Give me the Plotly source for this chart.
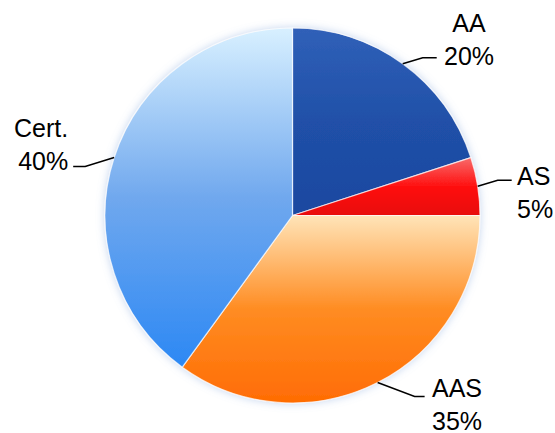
import math
import plotly.graph_objects as go

# Data
labels = ["AA", "AS", "AAS", "Cert."]
shares = [20, 5, 35, 40]
colors = ["#2050a8", "#f41414", "#ff8018", "#4e98ee"]

W, H = 555, 433
CX, CY, R = 292.5, 215.5, 187.5  # pie centre / radius in pixels

# leader-line styling per label: elbow offset, horizontal run, text offset, anchor
LEADER = {
    "AA": dict(elbow=(20, -6), run=14, text=(32, -18), anchor="center"),
    "AS": dict(elbow=(20, -6), run=14, text=(3, 12), anchor="left"),
    "AAS": dict(elbow=(37, 14), run=10, text=(5, 8), anchor="left"),
    "Cert.": dict(elbow=(-29, 9), run=-12, text=(-3, -22), anchor="right"),
}

# gradient stops (top -> bottom) applied to slices in the browser
GRADIENTS = [
    ["#3060b8", "#2050a8", "#1c48a0"],
    ["#f86a6a", "#ff1010", "#e80808"],
    ["#ffe4b8", "#ff8c22", "#ff6c04"],
    ["#d8f0ff", "#70a8ee", "#2c88f4"],
]


def px(x):
    return x / W


def py(y):
    return 1 - y / H


fig = go.Figure(go.Pie(
    labels=labels,
    values=shares,
    sort=False,
    direction="clockwise",
    rotation=0,
    textinfo="none",
    hoverinfo="label+percent",
    marker=dict(colors=colors, line=dict(color="rgba(255,255,255,0.7)", width=1.2)),
    domain=dict(x=[px(CX - R), px(CX + R)], y=[py(CY + R), py(CY - R)]),
))

shapes = []
annotations = []
total = sum(shares)
cum = 0
for lab, val in zip(labels, shares):
    mid = (cum + val / 2) / total * 2 * math.pi
    cum += val
    ex, ey = CX + R * math.sin(mid), CY - R * math.cos(mid)
    st = LEADER[lab]
    bx, by = ex + st["elbow"][0], ey + st["elbow"][1]
    tx = bx + st["run"]
    shapes.append(dict(
        type="path", xref="paper", yref="paper",
        path=f"M {px(ex)} {py(ey)} L {px(bx)} {py(by)} L {px(tx)} {py(by)}",
        line=dict(color="black", width=1.5),
    ))
    pct = round(val / total * 100)
    annotations.append(dict(
        xref="paper", yref="paper",
        x=px(tx + st["text"][0]), y=py(by + st["text"][1]),
        text=f"{lab}<br>{pct}%", showarrow=False,
        xanchor=st["anchor"], yanchor="middle", align=st["anchor"],
        font=dict(size=25, color="black", family="Liberation Sans, Arial, sans-serif"),
    ))

fig.update_layout(
    width=W, height=H,
    margin=dict(l=0, r=0, t=0, b=0),
    paper_bgcolor="white",
    plot_bgcolor="white",
    showlegend=False,
    shapes=shapes,
    annotations=annotations,
)

grad_js = "var G = " + str(GRADIENTS) + ";"
post = grad_js + """
document.body.style.margin = '0';
var gd = document.getElementById('{plot_id}');
var svg = gd.querySelector('.main-svg');
var defs = svg.querySelector('defs');
var ns = 'http://www.w3.org/2000/svg';
var f = document.createElementNS(ns, 'filter');
f.setAttribute('id', 'pieglow');
f.setAttribute('x', '-10%'); f.setAttribute('y', '-10%');
f.setAttribute('width', '120%'); f.setAttribute('height', '120%');
f.innerHTML = '<feGaussianBlur in="SourceAlpha" stdDeviation="4"/>' +
  '<feOffset dx="0" dy="0" result="b"/>' +
  '<feFlood flood-color="#88aadd" flood-opacity="0.5"/>' +
  '<feComposite in2="b" operator="in"/>' +
  '<feMerge><feMergeNode/><feMergeNode in="SourceGraphic"/></feMerge>';
defs.appendChild(f);
var paths = gd.querySelectorAll('g.slice path.surface');
paths.forEach(function(p, i) {
  var g = document.createElementNS(ns, 'linearGradient');
  g.setAttribute('id', 'sg' + i);
  g.setAttribute('x1', '0'); g.setAttribute('y1', '0');
  g.setAttribute('x2', '0'); g.setAttribute('y2', '1');
  var stops = G[i];
  stops.forEach(function(c, k) {
    var s = document.createElementNS(ns, 'stop');
    s.setAttribute('offset', (k / (stops.length - 1)).toString());
    s.setAttribute('stop-color', c);
    g.appendChild(s);
  });
  defs.appendChild(g);
  p.style.fill = 'url(#sg' + i + ')';
});
var trace = gd.querySelector('g.trace');
if (trace) trace.setAttribute('filter', 'url(#pieglow)');
"""

fig.write_html("out.html", post_script=post, config=dict(displayModeBar=False))
